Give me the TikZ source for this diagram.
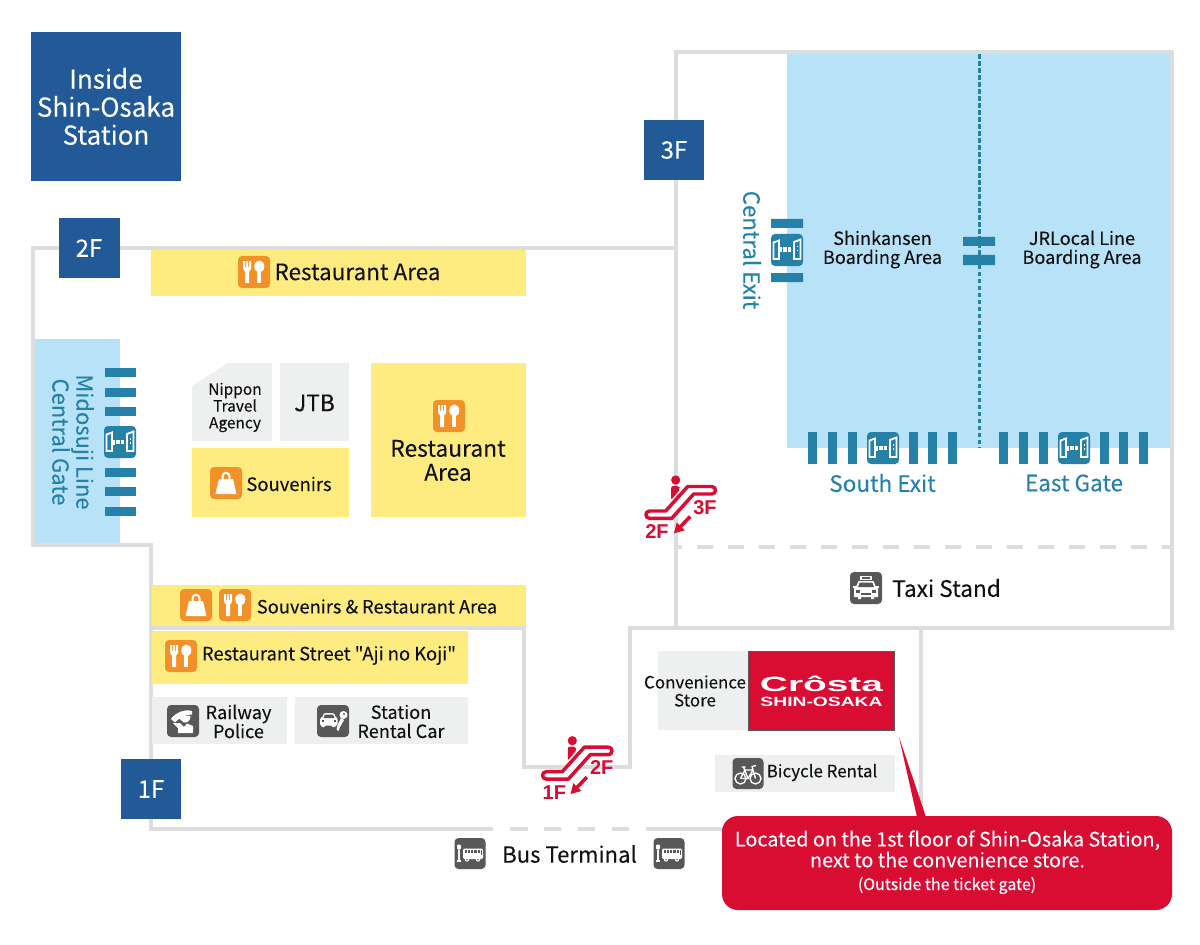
\documentclass[tikz,border=0pt]{standalone}
\usepackage{fontspec}
\setmainfont{Noto Sans CJK JP}[FakeBold=0.08]
\newfontfamily\plainf{Noto Sans CJK JP}[FakeBold=0.08]
\newfontfamily\medf{Noto Sans CJK JP}[FakeBold=0.3]
\newfontfamily\logofont{Liberation Sans}
\definecolor{wallc}{HTML}{DCDDDD}
\definecolor{navyc}{HTML}{225A97}
\definecolor{skyc}{HTML}{B8E2F8}
\definecolor{tealc}{HTML}{2581A8}
\definecolor{yelc}{HTML}{FFEC80}
\definecolor{greyc}{HTML}{EEF0F0}
\definecolor{orgc}{HTML}{F39129}
\definecolor{icoc}{HTML}{595757}
\definecolor{redc}{HTML}{D90C32}
\definecolor{inkc}{HTML}{111111}
\newcommand{\fs}[2]{\fontsize{#1}{#2}\selectfont}
\tikzset{
 wall/.style={draw=wallc,line width=3.1pt,line join=miter,line cap=butt},
 lab/.style={inner sep=0,align=center,text=inkc},
 tl/.style={lab,text=tealc},
 floorbox/.style={fill=navyc,draw=none},
 bar/.style={fill=tealc,draw=none},
 wh/.style={fill=white,draw=none},
 whl/.style={draw=white,fill=none},
 pics/gatei/.style={code={
   \fill[tealc,rounded corners=3] (-16,-16) rectangle (16,16);
   \draw[whl,line width=1.4pt] (-13.5,-7.5) -- (-8,-9.5) -- (-8,9) -- (-13.5,9) -- cycle;
   \fill[wh] (-7,-2.5) rectangle (-4.8,2.5);
   \fill[wh] (-4,-2.5) rectangle (-0.4,2.2);
   \fill[wh] (0.6,-2.5) rectangle (4.4,2.2);
   \draw[whl,line width=1.4pt] (7,-8) -- (13.5,-10.5) -- (13.5,9) -- (7,9) -- cycle;
   \fill[wh] (9.5,-4) rectangle (11,-2.5);
   \fill[wh] (9.5,0) rectangle (11,1.5);
 }},
 pics/forki/.style={code={
   \fill[orgc,rounded corners=3] (-16,-16) rectangle (16,16);
   \fill[wh] (-10.8,-11) -- (-8.8,-11) -- (-8.8,-5) -- (-7.9,-5) -- (-7.9,-11) -- (-5.9,-11) -- (-5.9,-5) -- (-5,-5) -- (-5,-11) -- (-3,-11) -- (-3,-3.5) .. controls (-3,-1.5) and (-4.5,-1) .. (-5,-0.5) -- (-5,11) -- (-8.8,11) -- (-8.8,-0.5) .. controls (-9.3,-1) and (-10.8,-1.5) .. (-10.8,-3.5) -- cycle;
   \fill[wh] (5.3,-5.5) ellipse (5 and 6);
   \fill[wh] (3.4,-3) -- (7.2,-3) -- (7.2,11) -- (3.4,11) -- cycle;
 }},
 pics/bagi/.style={code={
   \fill[orgc,rounded corners=3] (-16,-16) rectangle (16,16);
   \fill[wh] (-7,-4) -- (7,-4) -- (10.5,11) -- (-10.5,11) -- cycle;
   \draw[whl,line width=1.5pt] (-3.5,-3) -- (-3.5,-6.5) .. controls (-3.5,-11.5) and (3.5,-11.5) .. (3.5,-6.5) -- (3.5,-3);
 }},
 pics/taxii/.style={code={
   \fill[icoc,rounded corners=3] (-16,-16) rectangle (16,16);
   \fill[wh] (-6,-12) rectangle (6,-8);
   \fill[icoc] (-4,-11) rectangle (4,-9);
   \fill[wh] (-7.5,-7) -- (7.5,-7) -- (10,-1) -- (12,0) -- (12,9) -- (8,9) -- (8,11) -- (5,11) -- (5,9) -- (-5,9) -- (-5,11) -- (-8,11) -- (-8,9) -- (-12,9) -- (-12,0) -- (-10,-1) -- cycle;
   \fill[icoc] (-6.2,-5.5) -- (6.2,-5.5) -- (8,-1) -- (-8,-1) -- cycle;
   \fill[icoc] (-10,2) rectangle (-6,4.5);
   \fill[icoc] (6,2) rectangle (10,4.5);
   \fill[icoc] (-5,5) rectangle (5,7);
   \fill[wh] (-13,-2.5) rectangle (-10,-0.5);
   \fill[wh] (10,-2.5) rectangle (13,-0.5);
 }},
 pics/busi/.style={code={
   \fill[icoc,rounded corners=3] (-15.5,-15.5) rectangle (15.5,15.5);
   \fill[wh,rounded corners=0.8] (-13,-9) rectangle (-9,-4);
   \fill[wh] (-11.6,-4) rectangle (-10.4,7);
   \fill[wh] (-13.2,6.5) rectangle (-8.8,8);
   \fill[wh,rounded corners=1] (-7,-5) rectangle (13,5.5);
   \foreach \xx in {-5.5,-2.2,1.1,4.4,7.7}{\fill[icoc] (\xx,-3.5) rectangle (\xx+2.2,-0.8);}
   \fill[icoc] (10.6,-3.5) rectangle (12,1);
   \fill[wh] (-3,6.2) circle (2); \fill[icoc] (-3,6.2) circle (0.8);
   \fill[wh] (8,6.2) circle (2); \fill[icoc] (8,6.2) circle (0.8);
 }},
 pics/bikei/.style={code={
   \fill[icoc,rounded corners=3] (-15.5,-15.5) rectangle (15.5,15.5);
   \draw[whl,line width=1pt] (-7.5,5) circle (5.5);
   \draw[whl,line width=1pt] (7.5,5) circle (5.5);
   \draw[whl,line width=1pt,line join=round] (-7.5,5) -- (-3,-3.5) -- (5,-3.5) -- (0,5) -- (-7.5,5) (-4.5,-6.5) -- (0,5) (-6.5,-6.5) -- (-2.5,-6.5) (7.5,5) -- (4,-7) -- (8,-8);
 }},
 pics/policei/.style={code={
   \fill[icoc,rounded corners=3] (-16,-16) rectangle (16,16);
   \fill[wh] (-12,-2) .. controls (-7,-9) and (2,-12) .. (9,-10) -- (9,-6.5) .. controls (3,-7) and (-4,-3) .. (-8,1.5) -- cycle;
   \fill[wh] (-4,-2.5) .. controls (0,-5.5) and (5,-6) .. (7.5,-5) .. controls (7.5,0) and (4,2) .. (1,1.5) -- cycle;
   \fill[wh] (-10,2) -- (-3,2) -- (1,6) -- (4,2.5) -- (10,5) -- (10,12) -- (-5,12) -- (-5,7) -- cycle;
 }},
 pics/cari/.style={code={
   \fill[icoc,rounded corners=3] (-16,-16) rectangle (16,16);
   \fill[wh,rounded corners=1] (-13,-3) -- (-11,-3) -- (-9,-8) -- (1,-8) -- (3,-3) -- (4.5,-3) -- (4.5,4.5) -- (2,4.5) -- (2,6.5) -- (-0.5,6.5) -- (-0.5,4.5) -- (-8.5,4.5) -- (-8.5,6.5) -- (-11,6.5) -- (-11,4.5) -- (-13,4.5) -- cycle;
   \fill[icoc] (-8,-6.5) -- (0,-6.5) -- (1.5,-3) -- (-9.5,-3) -- cycle;
   \fill[icoc] (-11.5,-1) rectangle (-9,1);
   \fill[icoc] (0.5,-1) rectangle (3,1);
   \fill[wh] (10.5,-6) circle (4);
   \fill[wh] (8,-3) -- (11,-1) -- (7,6) -- (5.5,10) -- (3.5,8.5) -- (4.5,4) -- cycle;
   \fill[icoc] (11,-7) circle (1.1);
 }},
 pics/esc/.style={code={
   \fill[redc] (0,0) circle (4.6);
   \fill[redc,rounded corners=1.5] (-4.5,6) -- (3.5,6) -- (4.5,9) -- (-4.5,20) -- cycle;
   \draw[redc,line width=2.6pt,line join=round,fill=white] (-26,31) -- (-10,31) -- (12,6.5) -- (36,6.5) .. controls (41,6.5) and (41,14) .. (36,14) -- (18,14) -- (-4,38.4) -- (-26,38.4) .. controls (-31,38.4) and (-31,31) .. (-26,31) -- cycle;
   \draw[redc,line width=2.7pt] (14.5,36.5) -- (4,47.5);
   \fill[redc] (-1.7,53.3) -- (1,42.5) -- (9,50.3) -- cycle;
 }},
}
\begin{document}
\begin{tikzpicture}[x=0.75pt,y=-0.75pt]
\useasboundingbox (0,0) rectangle (1200,945);
\fill[white] (0,0) rectangle (1200,945);

% walls
\draw[wall] (676,628) -- (676,52) -- (1172,52) -- (1172,628) -- (630,628) -- (630,767) -- (524,767) -- (524,628) -- (152,628);
\draw[wall] (676,248) -- (33,248) -- (33,545) -- (151,545) -- (151,829) -- (493,829);
\draw[wall] (510,829) -- (528,829) (544,829) -- (561,829) (578,829) -- (595,829) (612,829) -- (629,829) (646,829) -- (730,829);
\draw[wall] (921,628) -- (921,830);
\draw[wall] (682,547) -- (676,547);
\foreach \xa in {697,728,...,1170}{\draw[wall] (\xa,547) -- ({min(\xa+16,1172)},547);}

% blue zones
\fill[skyc] (787,54) rectangle (1170,448);
\fill[skyc] (35,339) rectangle (120,543);
\fill[tealc] (977.5,54) rectangle (980.5,448);
\foreach \ya in {59,66,...,448}{\fill[skyc] (976,\ya) rectangle (982,\ya+2.5);}
\fill[bar] (963,237) rectangle (995,246) (963,255) rectangle (995,265);

% yellow and grey zones
\fill[yelc] (151,250) rectangle (526,296);
\fill[yelc] (371,363) rectangle (526,517);
\fill[yelc] (192,448) rectangle (349,517);
\fill[yelc] (152,585) rectangle (526,626);
\fill[yelc] (152,631) rectangle (468,684);
\fill[greyc] (192,386) -- (228,363) -- (272,363) -- (272,441) -- (192,441) -- cycle;
\fill[greyc] (280,363) rectangle (349,441);
\fill[greyc] (152,697) rectangle (287,744);
\fill[greyc] (295,697) rectangle (468,744);
\fill[greyc] (658,651) rectangle (750,730);
\fill[greyc] (715,755) rectangle (895,792);

% floor boxes
\fill[floorbox] (31,32) rectangle (181,181);
\fill[floorbox] (644,120) rectangle (704,180);
\fill[floorbox] (59,218) rectangle (120,278);
\fill[floorbox] (121,759) rectangle (181,819);
\node[lab,text=white,font=\fs{19.5}{21}] (inside) at (106,106.5) {Inside\\Shin-Osaka\\Station};
\node[lab,text=white,font=\fs{18}{20}] (f3) at (674,150) {3F};
\node[lab,text=white,font=\fs{18}{20}] (f2) at (89,248) {2F};
\node[lab,text=white,font=\fs{18}{20}] (f1) at (151,789) {1F};

% gate bars
\foreach \ya in {368,388,407,468,487,507}{\fill[bar] (105,\ya) rectangle (136,\ya+9);}
\fill[bar] (771,219) rectangle (803,228) (771,273) rectangle (803,282);
\foreach \xa in {808,828,848,909,928,948,999,1019,1039,1100,1119,1139}{\fill[bar] (\xa,432) rectangle (\xa+9,464);}
\pic at (120,442) {gatei};
\pic at (787,250) {gatei};
\pic at (883,448) {gatei};
\pic at (1074,448) {gatei};

% icons
\pic at (254,272) {forki};
\pic at (449,416) {forki};
\pic at (235,605) {forki};
\pic at (181,656) {forki};
\pic at (226,483) {bagi};
\pic at (196,605) {bagi};
\pic at (183,721) {policei};
\pic at (333,721) {cari};
\pic at (866,588) {taxii};
\pic at (470,853.5) {busi};
\pic at (669,853.5) {busi};
\pic at (748,773.5) {bikei};

% labels
\node[lab,font=\fs{16.9}{18}] (ra1) at (357.5,272) {Restaurant Area};
\node[lab,font=\fs{17.1}{18}] (ra2) at (448,460.5) {Restaurant\\Area};
\node[lab,font=\fs{13.85}{16}] (sou) at (289,484) {Souvenirs};
\node[lab,font=\fs{11.6}{12.6}] (ntt) at (235,407.5) {Nippon\\Travel\\Agency};
\node[lab,font=\medf\fs{17}{18}] (jtb) at (314.5,403) {JTB};
\node[tl,font=\fs{16.5}{18},rotate=-90] (mid) at (73,442) {Midosuji Line\\Central Gate};
\node[tl,font=\fs{16.7}{18},rotate=-90] (cex) at (752,250) {Central Exit};
\node[lab,font=\fs{13.6}{14.25}] (shin) at (882.5,249.5) {Shinkansen\\Boarding Area};
\node[lab,font=\fs{13.6}{14.25}] (jrl) at (1082,249.5) {JRLocal Line\\Boarding Area};
\node[tl,font=\fs{16.9}{18}] (sex) at (882.5,483) {South Exit};
\node[tl,font=\fs{16.9}{18}] (eg) at (1074,483) {East Gate};
\node[lab,font=\fs{17}{18}] (taxi) at (946.5,588) {Taxi Stand};
\node[lab,font=\fs{13.75}{15}] (srs) at (377,606.5) {Souvenirs \& Restaurant Area};
\node[lab,font=\plainf\fs{13.8}{15}] (rsa) at (329,655.5) {Restaurant Street "Aji no Koji"};
\node[lab,font=\fs{13.6}{14.3}] (pol) at (238.5,721.5) {Railway\\Police};
\node[lab,font=\fs{13.6}{14.3}] (rent) at (401,721.5) {Station\\Rental Car};
\node[lab,font=\fs{12.7}{13.5}] (conv) at (695,691) {Convenience\\Store};
\node[lab,font=\fs{12.7}{14}] (bike) at (822,772.5) {Bicycle Rental};
\node[lab,font=\fs{16.6}{18}] (bus) at (569.5,854) {Bus Terminal};

% logo
\fill[redc] (748.5,651.5) rectangle (894.5,730.5);
\draw[icoc,line width=0.9pt] (748.5,651.5) rectangle (894.5,730.5);
\node[inner sep=0,text=white,xscale=1.88,font=\logofont\bfseries\fs{15.5}{17}] (crosta) at (821.5,683.5) {Cr\^osta};
\node[inner sep=0,text=white,xscale=1.445,font=\logofont\bfseries\fs{10}{12}] (so) at (821.5,702) {SHIN-OSAKA};

% escalators
\pic at (675.7,480) {esc};
\pic at (572.3,740.7) {esc};
\node[lab,text=redc,font=\logofont\bfseries\fs{15}{17}] (e3) at (705,508) {3F};
\node[lab,text=redc,font=\logofont\bfseries\fs{15}{17}] (e2) at (657,532) {2F};
\node[lab,text=redc,font=\logofont\bfseries\fs{15}{17}] (e2b) at (601.7,768) {2F};
\node[lab,text=redc,font=\logofont\bfseries\fs{15}{17}] (e1) at (554.3,792.3) {1F};

% callout
\fill[redc] (899,737) -- (926,817) -- (917,817) -- cycle;
\fill[redc,rounded corners=12] (722,816) rectangle (1172,910);
\node[lab,text=white,font=\fs{14.84}{14.1}] (c1) at (947.5,849) {Located on the 1st floor of Shin-Osaka Station,\\next to the convenience store.};
\node[lab,text=white,font=\fs{12}{12}] (c2) at (947,885.5) {(Outside the ticket gate)};
\end{tikzpicture}
\end{document}
